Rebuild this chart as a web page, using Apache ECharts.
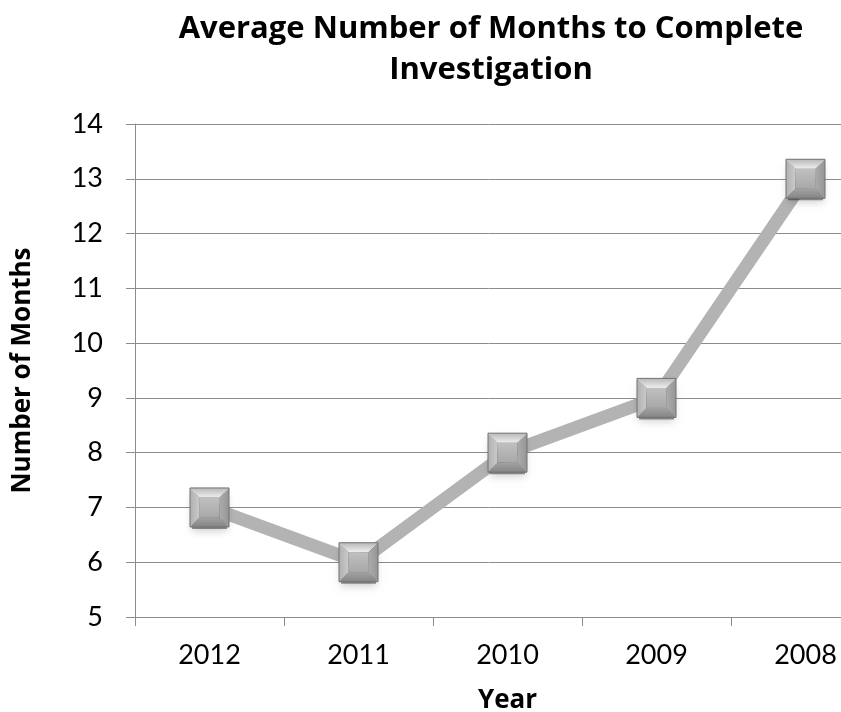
<!DOCTYPE html>
<html>
<head>
<meta charset="utf-8">
<script src="https://cdn.jsdelivr.net/npm/echarts@6/dist/echarts.min.js"></script>
<style>
html,body{margin:0;padding:0;background:#fff;}
#chart{width:841px;height:712px;}
</style>
</head>
<body>
<div id="chart"></div>
<script>
var categories = ['2012', '2011', '2010', '2009', '2008'];
var months = [7, 6, 8, 9, 13];
var yMin = 5, yMax = 14, yInterval = 1;
var titleText = 'Average Number of Months to Complete\nInvestigation';
var xName = 'Year';
var yName = 'Number of Months';

var chart = echarts.init(document.getElementById('chart'));
var TFONT = '"Open Sans"';
var LFONT = 'Lato';

function renderMarker(params, api) {
  var c = api.coord([api.value(0), api.value(1)]);
  var h = 19.5, r = 10;
  var x = c[0], y = c[1];
  var O = [[x - h, y - h], [x + h, y - h], [x + h, y + h], [x - h, y + h]];
  var I = [[x - r, y - r], [x + r, y - r], [x + r, y + r], [x - r, y + r]];
  function lg(x1, y1, x2, y2, a, b) {
    return new echarts.graphic.LinearGradient(x1, y1, x2, y2, [{offset: 0, color: a}, {offset: 1, color: b}]);
  }
  return {
    type: 'group',
    children: [
      {type: 'rect', shape: {x: x - h + 2, y: y - h + 5, width: 2 * h - 4, height: 2 * h - 3},
       style: {fill: 'rgba(0,0,0,0.4)', shadowBlur: 8, shadowColor: 'rgba(0,0,0,0.5)', shadowOffsetY: 2}},
      {type: 'polygon', shape: {points: [O[0], O[1], I[1], I[0]]}, style: {fill: lg(0, 0, 0, 1, '#b8b8b8', '#eeeeee')}},
      {type: 'polygon', shape: {points: [O[0], I[0], I[3], O[3]]}, style: {fill: lg(0, 0, 1, 0, '#b0b0b0', '#cacaca')}},
      {type: 'polygon', shape: {points: [O[1], O[2], I[2], I[1]]}, style: {fill: lg(0, 0, 1, 0, '#acacac', '#959595')}},
      {type: 'polygon', shape: {points: [O[3], I[3], I[2], O[2]]}, style: {fill: lg(0, 0, 0, 1, '#a2a2a2', '#858585')}},
      {type: 'rect', shape: {x: x - r, y: y - r, width: 2 * r, height: 2 * r}, style: {fill: lg(0, 0, 0, 1, '#c0c0c0', '#a8a8a8')}},
      {type: 'rect', shape: {x: x - h, y: y - h, width: 2 * h, height: 2 * h}, style: {fill: 'none', stroke: '#727272', lineWidth: 1}}
    ]
  };
}

var option = {
  animation: false,
  backgroundColor: '#ffffff',
  title: {
    text: titleText,
    left: 486,
    top: 4,
    textAlign: 'center',
    textStyle: {fontFamily: TFONT, fontWeight: 'bold', fontSize: 31, lineHeight: 41, color: '#000'}
  },
  grid: {left: 135, right: -39, top: 124, bottom: 95, containLabel: false, outerBoundsMode: 'none'},
  xAxis: {
    type: 'category',
    data: categories,
    boundaryGap: true,
    name: xName,
    nameLocation: 'middle',
    nameGap: 71,
    nameTextStyle: {fontFamily: TFONT, fontWeight: 'bold', fontSize: 26, color: '#000'},
    axisLine: {lineStyle: {color: '#8c8c8c', width: 1}},
    axisTick: {show: true, length: 9, lineStyle: {color: '#8c8c8c'}},
    axisLabel: {fontFamily: LFONT, fontSize: 27, color: '#000', margin: 25},
    splitLine: {show: false}
  },
  yAxis: {
    type: 'value',
    min: yMin,
    max: yMax,
    interval: yInterval,
    name: yName,
    nameLocation: 'middle',
    nameGap: 99,
    nameTextStyle: {fontFamily: TFONT, fontWeight: 'bold', fontSize: 26, color: '#000'},
    axisLine: {show: true, lineStyle: {color: '#8c8c8c', width: 1}},
    axisTick: {show: true, length: 9, lineStyle: {color: '#8c8c8c'}},
    axisLabel: {fontFamily: LFONT, fontSize: 27, color: '#000', margin: 32},
    splitLine: {show: true, lineStyle: {color: '#8c8c8c', width: 1}}
  },
  series: [
    {
      type: 'line',
      data: months,
      symbol: 'none',
      lineStyle: {color: '#b3b3b3', width: 13, cap: 'round', join: 'round'},
      z: 2
    },
    {
      type: 'custom',
      data: months.map(function (v, i) { return [i, v]; }),
      renderItem: renderMarker,
      z: 3
    }
  ]
};
chart.setOption(option);
</script>
</body>
</html>
